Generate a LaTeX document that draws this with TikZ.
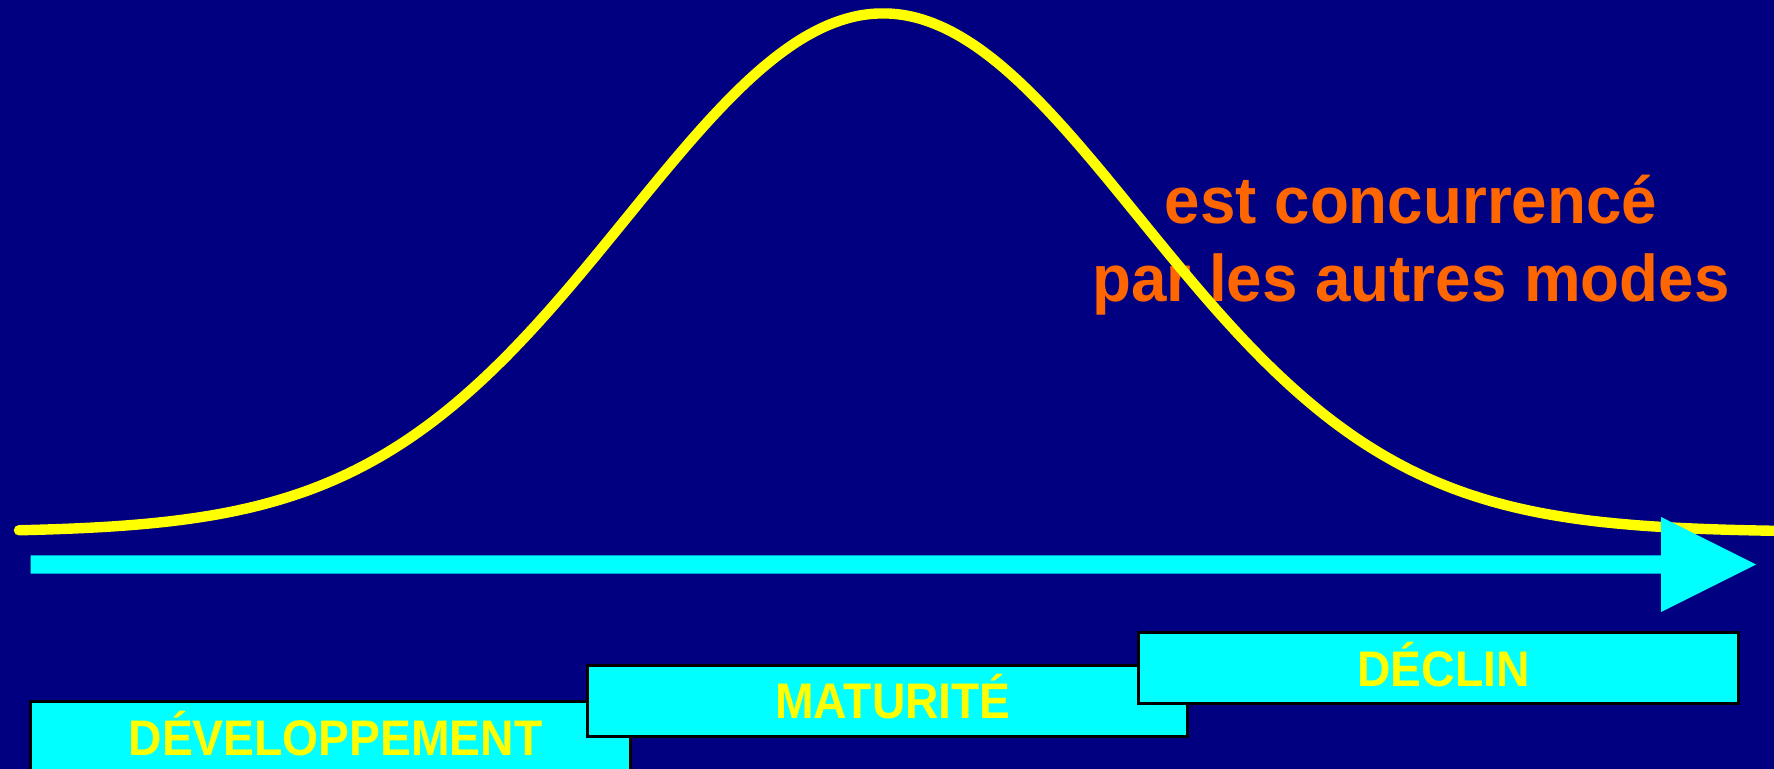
\documentclass[tikz,border=0pt]{standalone}
\usepackage{fontspec}
\setmainfont{Liberation Sans}
\newfontfamily\labfont{Liberation Sans}[FakeStretch=0.925]
\newfontfamily\notefont{Liberation Sans}[FakeStretch=0.965]
\definecolor{bg}{RGB}{0,0,128}
\definecolor{aqua}{RGB}{0,255,255}
\definecolor{gold}{RGB}{255,255,0}
\definecolor{orng}{RGB}{255,102,0}
\tikzset{
  stage/.style={draw=black, line width=1.5pt, fill=aqua, text=gold,
    font=\labfont\bfseries\fontsize{25}{30}\selectfont,
    minimum width=300pt, minimum height=35.5pt, inner sep=0pt,
    text height=18pt, text depth=0pt,
    execute at begin node={\hspace*{5.5pt}}},
  note/.style={text=orng, font=\notefont\bfseries\fontsize{33}{39}\selectfont,
    anchor=base, inner sep=0pt},
  curve/.style={draw=gold, line width=5.2pt, line cap=round, line join=round},
  axis/.style={fill=aqua}
}
\begin{document}
\begin{tikzpicture}[x=0.5pt,y=-0.5pt]
\fill[bg] (0,0) rectangle (1774,769);
\useasboundingbox (0,0) rectangle (1774,769);
\node[note] (n1) at (1411,224) {est concurrencé};
\node[note] (n2) at (1411,302) {par les autres modes};
\draw[curve] plot[domain=19:1774, samples=300, smooth] (\x, {532 - 518.5*exp(-((\x-883)/256)^2/2)});
\fill[axis] (30.5,555.5) -- (1661,555.5) -- (1661,517) -- (1756,564.5) -- (1661,612) -- (1661,573.6) -- (30.5,573.6) -- cycle;
\node[stage] (dev) at (330,737.25) {DÉVELOPPEMENT};
\node[stage] (mat) at (887.5,700.75) {MATURITÉ};
\node[stage] (dec) at (1438,668.25) {DÉCLIN};
\end{tikzpicture}
\end{document}
